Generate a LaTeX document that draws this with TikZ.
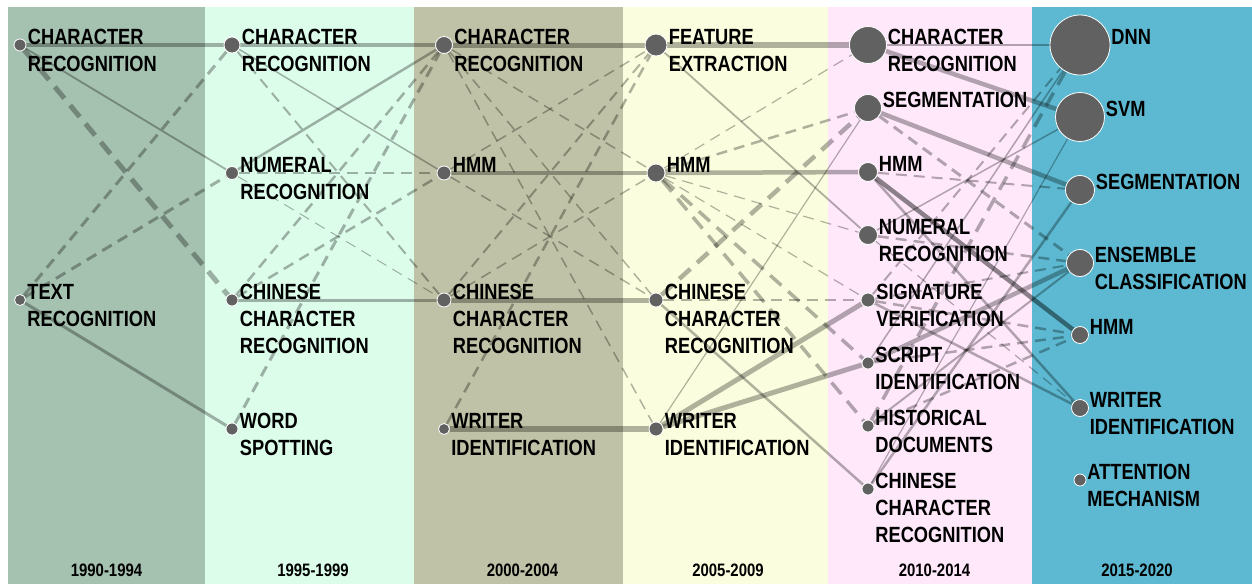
\documentclass[tikz,border=0pt]{standalone}
\usepackage{fontspec}
\usepackage{tikz}
\newfontfamily\lblfont{Liberation Sans}[FakeStretch=0.83]
\definecolor{bandA}{RGB}{165,193,176}
\definecolor{bandB}{RGB}{221,253,235}
\definecolor{bandC}{RGB}{191,194,166}
\definecolor{bandD}{RGB}{251,254,222}
\definecolor{bandE}{RGB}{254,232,250}
\definecolor{bandF}{RGB}{92,185,209}
\definecolor{dotgray}{RGB}{97,97,97}
\pgfdeclarelayer{back}
\pgfdeclarelayer{links}
\pgfsetlayers{back,links,main}
\tikzset{
  topic/.style={circle,fill=dotgray,draw=white,line width=0.8pt,inner sep=0pt,minimum size=#1},
  tlabel/.style={anchor=north west,inner sep=0pt,outer sep=0pt,align=left,
    font=\lblfont\bfseries\fontsize{22}{27}\selectfont},
  year/.style={anchor=base,inner sep=0pt,font=\lblfont\bfseries\fontsize{18}{20}\selectfont},
  flow/.style={draw=black,draw opacity=0.3,line width=#1},
  flow/.default=1.2pt,
  dflow/.style={flow=#1,dash pattern=on 11pt off 7pt},
  dflow/.default=1.5pt,
  bigdash/.style={flow=#1,dash pattern=on 15pt off 9pt},
  bigdash/.default=4.5pt
}
\begin{document}
\begin{tikzpicture}[x=1pt,y=-1pt]
    \useasboundingbox (0,0) rectangle (1252,584);

    \begin{pgfonlayer}{back}
    \fill[bandA] (8,7) rectangle (205,584);
    \fill[bandB] (205,7) rectangle (414,584);
    \fill[bandC] (414,7) rectangle (623,584);
    \fill[bandD] (623,7) rectangle (828,584);
    \fill[bandE] (828,7) rectangle (1032,584);
    \fill[bandF] (1032,7) rectangle (1252,584);
    \end{pgfonlayer}

    \node[topic=12pt] (c1char) at (20,45) {};
    \node[tlabel] (l1char) at ([xshift=1.5pt,yshift=16pt]c1char.east) {CHARACTER\\RECOGNITION};
    \node[topic=11pt] (c1text) at (20,300) {};
    \node[tlabel] (l1text) at ([xshift=1.5pt,yshift=16pt]c1text.east) {TEXT\\RECOGNITION};

    \node[topic=16pt] (c2char) at (232,45) {};
    \node[tlabel] (l2char) at ([xshift=1.5pt,yshift=16pt]c2char.east) {CHARACTER\\RECOGNITION};
    \node[topic=13pt] (c2num) at (232,173) {};
    \node[tlabel] (l2num) at ([xshift=1.5pt,yshift=16pt]c2num.east) {NUMERAL\\RECOGNITION};
    \node[topic=12pt] (c2chin) at (232,300) {};
    \node[tlabel] (l2chin) at ([xshift=1.5pt,yshift=16pt]c2chin.east) {CHINESE\\CHARACTER\\RECOGNITION};
    \node[topic=12pt] (c2word) at (232,429) {};
    \node[tlabel] (l2word) at ([xshift=1.5pt,yshift=16pt]c2word.east) {WORD\\SPOTTING};

    \node[topic=17pt] (c3char) at (444,45) {};
    \node[tlabel] (l3char) at ([xshift=1.5pt,yshift=16pt]c3char.east) {CHARACTER\\RECOGNITION};
    \node[topic=14pt] (c3hmm) at (444,173) {};
    \node[tlabel] (l3hmm) at ([xshift=1.5pt,yshift=16pt]c3hmm.east) {HMM};
    \node[topic=14pt] (c3chin) at (444,300) {};
    \node[tlabel] (l3chin) at ([xshift=1.5pt,yshift=16pt]c3chin.east) {CHINESE\\CHARACTER\\RECOGNITION};
    \node[topic=11pt] (c3wri) at (444,429) {};
    \node[tlabel] (l3wri) at ([xshift=1.5pt,yshift=16pt]c3wri.east) {WRITER\\IDENTIFICATION};

    \node[topic=22pt] (c4feat) at (656,45) {};
    \node[tlabel] (l4feat) at ([xshift=1.5pt,yshift=16pt]c4feat.east) {FEATURE\\EXTRACTION};
    \node[topic=18pt] (c4hmm) at (656,173) {};
    \node[tlabel] (l4hmm) at ([xshift=1.5pt,yshift=16pt]c4hmm.east) {HMM};
    \node[topic=14pt] (c4chin) at (656,300) {};
    \node[tlabel] (l4chin) at ([xshift=1.5pt,yshift=16pt]c4chin.east) {CHINESE\\CHARACTER\\RECOGNITION};
    \node[topic=14pt] (c4wri) at (656,429) {};
    \node[tlabel] (l4wri) at ([xshift=1.5pt,yshift=16pt]c4wri.east) {WRITER\\IDENTIFICATION};

    \node[topic=37pt] (c5char) at (868,45) {};
    \node[tlabel] (l5char) at ([xshift=1pt,yshift=16pt]c5char.east) {CHARACTER\\RECOGNITION};
    \node[topic=27pt] (c5seg) at (868,108) {};
    \node[tlabel] (l5seg) at ([xshift=1pt,yshift=16pt]c5seg.east) {SEGMENTATION};
    \node[topic=19pt] (c5hmm) at (868,172) {};
    \node[tlabel] (l5hmm) at ([xshift=1pt,yshift=16pt]c5hmm.east) {HMM};
    \node[topic=19pt] (c5num) at (868,235) {};
    \node[tlabel] (l5num) at ([xshift=1pt,yshift=16pt]c5num.east) {NUMERAL\\RECOGNITION};
    \node[topic=14pt] (c5sig) at (868,300) {};
    \node[tlabel] (l5sig) at ([xshift=1pt,yshift=16pt]c5sig.east) {SIGNATURE\\VERIFICATION};
    \node[topic=12pt] (c5scr) at (868,363) {};
    \node[tlabel] (l5scr) at ([xshift=1pt,yshift=16pt]c5scr.east) {SCRIPT\\IDENTIFICATION};
    \node[topic=12pt] (c5hist) at (868,426) {};
    \node[tlabel] (l5hist) at ([xshift=1pt,yshift=16pt]c5hist.east) {HISTORICAL\\DOCUMENTS};
    \node[topic=12pt] (c5chin) at (868,489) {};
    \node[tlabel] (l5chin) at ([xshift=1pt,yshift=16pt]c5chin.east) {CHINESE\\CHARACTER\\RECOGNITION};

    \node[topic=60pt] (c6dnn) at (1080,45) {};
    \node[tlabel] (l6dnn) at ([xshift=1pt,yshift=16pt]c6dnn.east) {DNN};
    \node[topic=49pt] (c6svm) at (1080,117) {};
    \node[tlabel] (l6svm) at ([xshift=1pt,yshift=16pt]c6svm.east) {SVM};
    \node[topic=29pt] (c6seg) at (1080,190) {};
    \node[tlabel] (l6seg) at ([xshift=1pt,yshift=16pt]c6seg.east) {SEGMENTATION};
    \node[topic=27pt] (c6ens) at (1080,263) {};
    \node[tlabel] (l6ens) at ([xshift=1pt,yshift=16pt]c6ens.east) {ENSEMBLE\\CLASSIFICATION};
    \node[topic=17pt] (c6hmm) at (1080,335) {};
    \node[tlabel] (l6hmm) at ([xshift=1pt,yshift=16pt]c6hmm.east) {HMM};
    \node[topic=17pt] (c6wri) at (1080,408) {};
    \node[tlabel] (l6wri) at ([xshift=1pt,yshift=16pt]c6wri.east) {WRITER\\IDENTIFICATION};
    \node[topic=12pt] (c6att) at (1080,480) {};
    \node[tlabel] (l6att) at ([xshift=1pt,yshift=16pt]c6att.east) {ATTENTION\\MECHANISM};

    \node[year] (y1) at (106.5,576) {1990-1994};
    \node[year] (y2) at (313,576) {1995-1999};
    \node[year] (y3) at (522.5,576) {2000-2004};
    \node[year] (y4) at (728,576) {2005-2009};
    \node[year] (y5) at (934.5,576) {2010-2014};
    \node[year] (y6) at (1137,576) {2015-2020};

    \begin{pgfonlayer}{links}
    \draw[flow=4.5pt] (c1char) -- (c2char);
    \draw[flow=1.8pt] (c1char) -- (c2num);
    \draw[bigdash=5pt] (c1char) -- (c2chin);
    \draw[dflow=3pt] (c1text) -- (c2char);
    \draw[dflow=3pt] (c1text) -- (c2num);
    \draw[flow=3pt] (c1text) -- (c2word);

    \draw[flow=4.5pt] (c2char) -- (c3char);
    \draw[flow=1.5pt] (c2char) -- (c3hmm);
    \draw[dflow=2pt] (c2char) -- (c3chin);
    \draw[flow=2.5pt] (c2num) -- (c3char);
    \draw[dflow=2.5pt] (c2num) -- (c3hmm);
    \draw[dflow=1pt] (c2num) -- (c3chin);
    \draw[dflow=2.5pt] (c2chin) -- (c3char);
    \draw[dflow=2.5pt] (c2chin) -- (c3hmm);
    \draw[flow=3pt] (c2chin) -- (c3chin);
    \draw[dflow=3pt] (c2word) -- (c3char);

    \draw[flow=5pt] (c3char) -- (c4feat);
    \draw[dflow] (c3char) -- (c4hmm);
    \draw[dflow] (c3char) -- (c4chin);
    \draw[dflow] (c3char) -- (c4wri);
    \draw[dflow] (c3hmm) -- (c4feat);
    \draw[flow=4.5pt] (c3hmm) -- (c4hmm);
    \draw[dflow] (c3hmm) -- (c4chin);
    \draw[dflow=2pt] (c3chin) -- (c4feat);
    \draw[dflow] (c3chin) -- (c4hmm);
    \draw[flow=5pt] (c3chin) -- (c4chin);
    \draw[dflow=2.5pt] (c3wri) -- (c4feat);
    \draw[flow=6pt] (c3wri) -- (c4wri);

    \draw[flow=6pt] (c4feat) -- (c5char);
    \draw[flow=1.8pt] (c4feat) -- (c5num);
    \draw[dflow=1.2pt] (c4hmm) -- (c5char);
    \draw[dflow=2.5pt] (c4hmm) -- (c5seg);
    \draw[flow=4.5pt] (c4hmm) -- (c5hmm);
    \draw[dflow=1.2pt] (c4hmm) -- (c5num);
    \draw[dflow=1.2pt] (c4hmm) -- (c5sig);
    \draw[bigdash=3.5pt] (c4hmm) -- (c5scr);
    \draw[bigdash=3.5pt] (c4hmm) -- (c5hist);
    \draw[bigdash=4.5pt] (c4chin) -- (c5seg);
    \draw[dflow] (c4chin) -- (c5sig);
    \draw[flow=2.5pt] (c4chin) -- (c5chin);
    \draw[flow] (c4wri) -- (c5seg);
    \draw[flow=5pt] (c4wri) -- (c5sig);
    \draw[flow=5pt] (c4wri) -- (c5scr);

    \draw[flow=1.5pt] (c5char) -- (c6dnn);
    \draw[flow=4.5pt] (c5char) -- (c6svm);
    \draw[flow=4.5pt] (c5seg) -- (c6seg);
    \draw[dflow=3pt] (c5seg) -- (c6ens);
    \draw[flow=4.5pt,draw opacity=0.45] (c5hmm) -- (c6hmm);
    \draw[flow=2.5pt] (c5hmm) -- (c6wri);
    \draw[dflow=2pt] (c5hmm) -- (c6seg);
    \draw[flow=1.5pt] (c5num) -- (c6svm);
    \draw[dflow=2.5pt] (c5num) -- (c6ens);
    \draw[dflow=1.2pt] (c5num) -- (c6wri);
    \draw[dflow=2pt] (c5sig) -- (c6dnn);
    \draw[flow=2.5pt] (c5sig) -- (c6wri);
    \draw[dflow=2.5pt] (c5sig) -- (c6hmm);
    \draw[dflow=2pt] (c5sig) -- (c6ens);
    \draw[flow=1.5pt] (c5scr) -- (c6dnn);
    \draw[flow=4.5pt] (c5scr) -- (c6ens);
    \draw[dflow=2.5pt] (c5scr) -- (c6hmm);
    \draw[bigdash=3.5pt] (c5hist) -- (c6dnn);
    \draw[dflow=2.5pt] (c5hist) -- (c6hmm);
    \draw[flow=2pt] (c5hist) -- (c6ens);
    \draw[flow=2.5pt] (c5chin) -- (c6seg);
    \draw[flow=1.2pt] (c5chin) -- (c6svm);
    \end{pgfonlayer}
  \end{tikzpicture}
\end{document}
